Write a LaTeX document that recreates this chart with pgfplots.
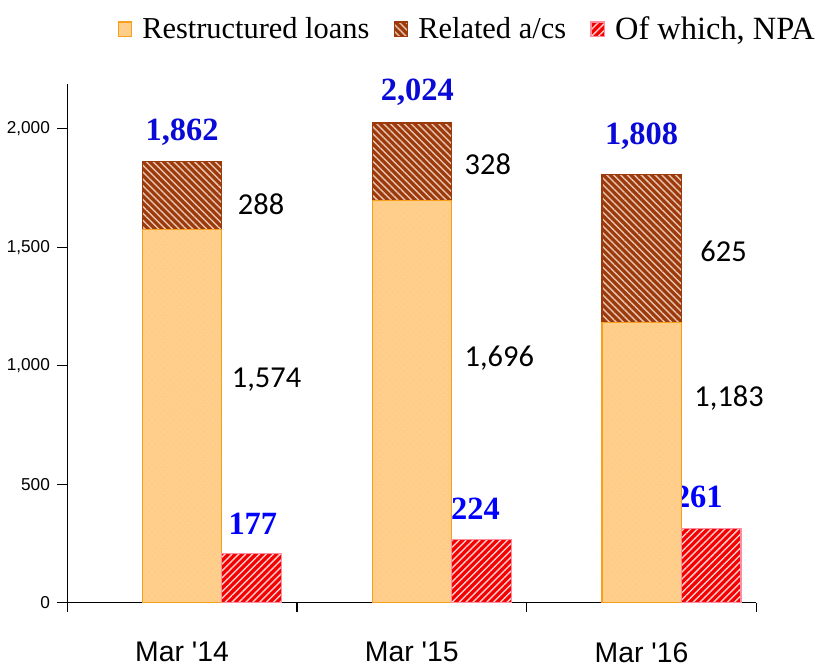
\documentclass[border=0pt]{standalone}
\usepackage{pgfplots}
\pgfplotsset{compat=1.18}
\usepackage{fontspec}
\setmainfont{Liberation Serif}
\newfontfamily\arialfont{Liberation Sans}
\newfontfamily\calfont{Carlito}
\usetikzlibrary{patterns,patterns.meta}

\definecolor{restfill}{RGB}{255,205,135}
\definecolor{restedge}{RGB}{247,160,30}
\definecolor{relfill}{RGB}{156,58,12}
\definecolor{relline}{RGB}{230,195,175}
\definecolor{npafill}{RGB}{245,0,0}
\definecolor{npaedge}{RGB}{255,140,160}
\definecolor{lblblue}{RGB}{10,10,215}

\pgfplotsset{
  reststyle/.style={fill=restfill, draw=restedge, line width=0.6pt,
    postaction={pattern=crosshatch dots, pattern color=restedge!45}},
  relstyle/.style={fill=relfill, draw=relfill, line width=0.6pt,
    postaction={pattern={Lines[angle=-45,distance=2.4pt,line width=0.7pt]}, pattern color=relline}},
  npastyle/.style={fill=npafill, draw=npaedge, line width=0.6pt,
    postaction={pattern={Lines[angle=45,distance=2.4pt,line width=0.7pt]}, pattern color=white!80!red}},
  common/.style={scale only axis, width=340pt, height=256pt,
    xmin=-0.5, xmax=2.5, ymin=0, ymax=2190},
}

\begin{document}
\begin{tikzpicture}
\begin{axis}[
  common, clip=false,
  ybar stacked, bar width=39pt,
  axis x line*=bottom, axis y line*=left,
  axis line style={-, black, line width=0.6pt},
  tick align=outside,
  xtick={0,1,2}, xticklabels={Mar '14, Mar '15, Mar '16},
  major x tick style={draw=none},
  minor xtick={-0.5,0.5,1.5,2.5},
  minor tick length=4.5pt, major tick length=5pt,
  tick style={black, line width=0.6pt},
  ytick={0,500,1000,1500,2000},
  /pgf/number format/1000 sep={,},
  yticklabel style={font=\arialfont\fontsize{8.5}{10}\selectfont,
    /pgf/number format/assume math mode=true},
  xticklabel style={font=\arialfont\fontsize{14}{16}\selectfont, yshift=-11pt},
  legend style={at={(1.10,1.105)}, anchor=east, legend columns=-1,
    draw=none, fill=none, font=\fontsize{15}{17}\selectfont, inner ysep=6pt,
    /tikz/every even column/.append style={column sep=10pt},
    /tikz/every odd column/.append style={column sep=3pt}},
  legend image code/.code={\draw[#1] (0pt,-3.5pt) rectangle (6.5pt,3.5pt);},
]
\addplot[reststyle] coordinates {(0,1574) (1,1696) (2,1183)};
\addlegendentry{Restructured loans}
\addplot[relstyle] coordinates {(0,288) (1,328) (2,625)};
\addlegendentry{Related a/cs}
\addlegendimage{npastyle}
\addlegendentry{\fontsize{16}{18}\selectfont Of which, NPA}

% segment labels
\node[anchor=west, font=\calfont\fontsize{15}{17}\selectfont] at (axis cs:0.186,943) {1,574};
\node[anchor=west, font=\calfont\fontsize{15}{17}\selectfont] at (axis cs:1.199,1031) {1,696};
\node[anchor=west, font=\calfont\fontsize{15}{17}\selectfont] at (axis cs:2.199,862) {1,183};
\node[anchor=west, font=\calfont\fontsize{15}{17}\selectfont] at (axis cs:0.212,1683) {288};
\node[anchor=west, font=\calfont\fontsize{15}{17}\selectfont] at (axis cs:1.199,1852) {328};
\node[anchor=west, font=\calfont\fontsize{15}{17}\selectfont] at (axis cs:2.225,1484) {625};
% totals
\node[text=lblblue, font=\bfseries\fontsize{16}{18}\selectfont] at (axis cs:0,1983) {1,862};
\node[text=lblblue, font=\bfseries\fontsize{16}{18}\selectfont] at (axis cs:1.024,2152) {2,024};
\node[text=lblblue, font=\bfseries\fontsize{16}{18}\selectfont] at (axis cs:2,1970) {1,808};
% NPA labels
\node[text=blue, font=\bfseries\fontsize{16}{18}\selectfont] at (axis cs:0.308,334) {177};
\node[text=blue, font=\bfseries\fontsize{16}{18}\selectfont] at (axis cs:1.277,397) {224};
\node[text=blue, font=\bfseries\fontsize{16}{18}\selectfont] at (axis cs:2.247,448) {261};
\end{axis}

\begin{axis}[
  common, hide axis,
  ybar, bar width=29.5pt, bar shift=34.25pt,
]
\addplot[npastyle] coordinates {(0,208) (1,267) (2,313)};
\end{axis}
\end{tikzpicture}
\end{document}
